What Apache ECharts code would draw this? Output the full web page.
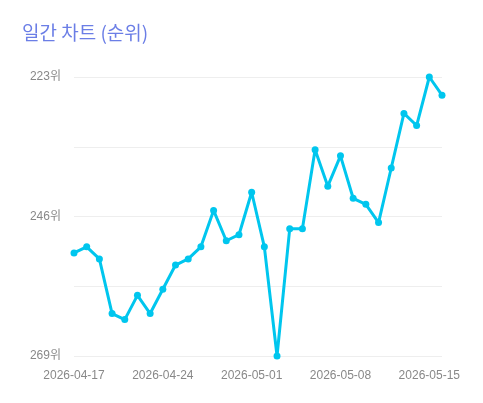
<!DOCTYPE html>
<html>
<head>
<meta charset="utf-8">
<script src="https://cdn.jsdelivr.net/npm/echarts@6/dist/echarts.min.js"></script>
<style>
  html, body { margin: 0; padding: 0; background: #fff; }
  #chart { width: 483px; height: 403px; }
</style>
</head>
<body>
<div id="chart"></div>
<script>
const dates = [
  '2026-04-17', '2026-04-18', '2026-04-19', '2026-04-20', '2026-04-21',
  '2026-04-22', '2026-04-23', '2026-04-24', '2026-04-25', '2026-04-26',
  '2026-04-27', '2026-04-28', '2026-04-29', '2026-04-30', '2026-05-01',
  '2026-05-02', '2026-05-03', '2026-05-04', '2026-05-05', '2026-05-06',
  '2026-05-07', '2026-05-08', '2026-05-09', '2026-05-10', '2026-05-11',
  '2026-05-12', '2026-05-13', '2026-05-14', '2026-05-15', '2026-05-16'
]
const ranks = [
  252, 251, 253, 262, 263, 259, 262, 258, 254, 253,
  251, 245, 250, 249, 242, 251, 269, 248, 248, 235,
  241, 236, 243, 244, 247, 238, 229, 231, 223, 226
]
const rankMin = 223
const rankMax = 269
const rankStep = 11.5

const chart = echarts.init(document.getElementById('chart'))

chart.setOption({
  backgroundColor: '#fff',
  title: {
    text: '일간 차트 (순위)',
    left: 17,
    top: 18,
    textStyle: {
      color: '#6b7ee6',
      fontSize: 19,
      fontWeight: 'normal',
      fontFamily: 'Noto Sans CJK KR, sans-serif'
    }
  },
  grid: { left: 74, right: 41, top: 77, bottom: 47 },
  xAxis: {
    type: 'category',
    data: dates,
    boundaryGap: false,
    axisLine: { show: false },
    axisTick: { show: false },
    axisLabel: {
      interval: 6,
      margin: 14,
      color: '#888',
      fontSize: 12,
      fontFamily: 'Liberation Sans, Arial, sans-serif'
    }
  },
  yAxis: {
    type: 'value',
    inverse: true,
    min: rankMin,
    max: rankMax,
    interval: rankStep,
    axisLine: { show: false },
    axisTick: { show: false },
    axisLabel: {
      margin: 13,
      color: '#888',
      fontSize: 12,
      fontFamily: 'Liberation Sans, Noto Sans CJK KR, sans-serif',
      formatter: v => Number.isInteger(v) ? v + '위' : ''
    },
    splitLine: { lineStyle: { color: '#eee' } }
  },
  series: [{
    type: 'line',
    data: ranks,
    symbol: 'circle',
    symbolSize: 7,
    lineStyle: { color: '#00c6ee', width: 3 },
    itemStyle: { color: '#00c6ee' }
  }]
})
</script>
</body>
</html>
